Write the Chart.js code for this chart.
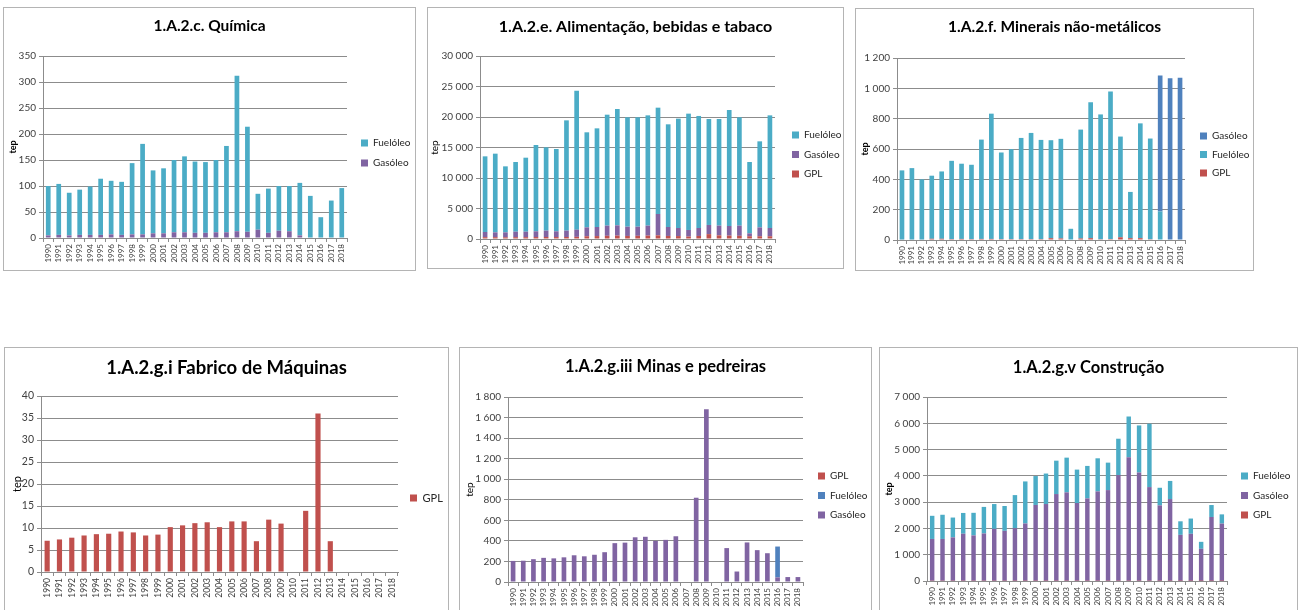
<!DOCTYPE html>
<html>
<head>
<meta charset="utf-8">
<title>Consumo de combustíveis por subsetor industrial</title>
<script src="https://cdn.jsdelivr.net/npm/chart.js@4.4.1/dist/chart.umd.min.js"></script>
<style>
  html, body { margin: 0; padding: 0; background: #fff; width: 1298px; height: 610px; overflow: hidden; }
  .panel { position: absolute; box-sizing: border-box; border: 1px solid #b4b4b4; background: #fff; }
  .panel canvas { position: absolute; left: 0; top: 0; }
</style>
</head>
<body>
<div class="panel" style="left:3px;top:7px;width:413px;height:264px"><canvas id="c1" width="411" height="262"></canvas></div>
<div class="panel" style="left:427px;top:7px;width:417px;height:262px"><canvas id="c2" width="415" height="260"></canvas></div>
<div class="panel" style="left:855px;top:8px;width:399px;height:263px"><canvas id="c3" width="397" height="261"></canvas></div>
<div class="panel" style="left:4px;top:347px;width:445px;height:275px"><canvas id="c4" width="443" height="273"></canvas></div>
<div class="panel" style="left:459px;top:347px;width:413px;height:275px"><canvas id="c5" width="411" height="273"></canvas></div>
<div class="panel" style="left:879px;top:347px;width:419px;height:275px"><canvas id="c6" width="417" height="273"></canvas></div>

<script>
// ---- categories ----
const years = ['1990', '1991', '1992', '1993', '1994', '1995', '1996', '1997', '1998', '1999',
               '2000', '2001', '2002', '2003', '2004', '2005', '2006', '2007', '2008', '2009',
               '2010', '2011', '2012', '2013', '2014', '2015', '2016', '2017', '2018'];

// ---- 1.A.2.c. Química (tep) ----
const quimicaFuel = [95, 98, 82, 87, 93, 108, 103, 102, 137, 174,
                     121, 125, 139, 146, 137, 136, 139, 166, 299, 202,
                     69, 85, 86, 87, 101, 81, 40, 72, 96];
const quimicaGas = [5, 6, 5, 6, 6, 6, 7, 6, 7, 7,
                    9, 9, 11, 11, 10, 10, 11, 11, 13, 12,
                    16, 10, 14, 13, 5, 0, 0, 0, 0];

// ---- 1.A.2.e. Alimentação, bebidas e tabaco (tep) ----
const alimFuel = [12400, 12900, 10820, 11420, 12130, 14150, 13660, 13490, 18080, 22790,
                  15580, 16170, 18190, 19070, 17930, 17930, 18080, 17430, 16830, 17930,
                  19070, 18370, 17370, 17480, 19020, 17760, 11690, 14110, 18470];
const alimGas = [850, 790, 810, 900, 900, 940, 1040, 940, 1040, 1180,
                 1460, 1490, 1670, 1690, 1520, 1500, 1640, 3500, 1470, 1320,
                 1080, 1300, 1500, 1590, 1580, 1670, 480, 1450, 1350];
const alimGpl = [300, 300, 280, 300, 300, 320, 330, 320, 330, 350,
                 450, 480, 520, 550, 500, 520, 550, 600, 500, 480,
                 400, 500, 800, 600, 550, 520, 450, 450, 450];

// ---- 1.A.2.f. Minerais não-metálicos (tep) ----
const minerFuel = [456, 471, 397, 416, 444, 516, 496, 490, 655, 826,
                   571, 593, 667, 700, 654, 646, 657, 74, 718, 897,
                   823, 973, 664, 305, 757, 664, 188, null, null];
const minerGas = [null, null, null, null, null, null, null, null, null, null,
                  null, null, null, null, null, null, null, null, null, null,
                  null, null, null, null, null, null, 896, 1067, 1069];
const minerGpl = [3, 3, 3, 8, 8, 6, 7, 6, 7, 7,
                  6, 6, 6, 6, 6, 12, 10, 0, 10, 12,
                  5, 6, 18, 12, 12, 5, 0, 0, 0];

// ---- 1.A.2.g.i Fabrico de Máquinas (tep) ----
const maqGpl = [7.1, 7.4, 7.8, 8.3, 8.6, 8.7, 9.2, 9.0, 8.3, 8.5,
                10.2, 10.6, 11.1, 11.3, 10.2, 11.5, 11.5, 7.0, 11.9, 11.0,
                null, 13.9, 36.0, 7.0, null, null, null, null, null];

// ---- 1.A.2.g.iii Minas e pedreiras (tep) ----
const minasGas = [205, 207, 222, 235, 230, 240, 260, 250, 265, 290,
                  378, 383, 435, 440, 400, 410, 445, null, 820, 1680,
                  null, 330, 102, 385, 310, 280, 45, 48, 48];
const minasFuel = [null, null, null, null, null, null, null, null, null, null,
                   null, null, null, null, null, null, null, null, null, null,
                   null, null, null, null, null, null, 300, null, null];
const minasGpl = [null, null, null, null, null, null, null, null, null, null,
                  null, null, null, null, null, null, null, null, null, null,
                  null, null, null, null, null, null, null, null, null];

// ---- 1.A.2.g.v Construção (tep) ----
const consGas = [1590, 1590, 1650, 1790, 1725, 1800, 1975, 1900, 2000, 2180,
                 2885, 2920, 3300, 3365, 2960, 3135, 3400, 3450, 4020, 4700,
                 4120, 3565, 2870, 3110, 1750, 1790, 1220, 2430, 2180];
const consFuel = [880, 920, 755, 790, 860, 1010, 945, 945, 1260, 1600,
                  1100, 1160, 1270, 1320, 1270, 1235, 1260, 1045, 1385, 1550,
                  1790, 2410, 670, 690, 515, 580, 265, 455, 350];
const consGpl = [10, 10, 9, 9, 9, 9, 8, 8, 8, 8,
                 8, 8, 8, 8, 8, 8, 8, 8, 8, 8,
                 8, 8, 7, 7, 6, 6, 5, 5, 5];

// ---- styling ----
const COL = { fuel: '#4bacc6', gas: '#8064a2', gpl: '#c0504d', blue: '#4f81bd' };
const GRID = '#8c8c8c';
const TEXT = '#404040';
Chart.defaults.font.family = 'Lato, "Open Sans", sans-serif';

// thousands separated by a space: 30 000, 1 200
function fmt(v) {
  return String(v).replace(/\B(?=(\d{3})+(?!\d))/g, ' ');
}

// re-centres the title over the whole canvas and nudges the legend block
const panelLayout = {
  id: 'panelLayout',
  afterLayout(chart, args, opts) {
    const t = chart.titleBlock;
    if (t) { t.left = 0; t.right = chart.width; t.width = chart.width; }
    const lg = chart.legend;
    if (lg) {
      lg.left += opts.dx; lg.right += opts.dx;
      lg.top += opts.dy; lg.bottom += opts.dy;
    }
  }
};

function buildChart(id, spec) {
  const canvas = document.getElementById(id);
  const W = canvas.width, H = canvas.height;
  const p = spec.plot;
  const lh = spec.titleSize * 1.2;
  const titleTop = spec.titleY - lh / 2;
  const legPad = spec.legendStep - spec.legendSize;
  const itemH = Math.max(spec.legendSize, 7);

  const chart = new Chart(canvas, {
    type: 'bar',
    data: {
      labels: years,
      datasets: spec.series.map(s => ({
        label: s.label,
        data: s.data,
        backgroundColor: s.color,
        borderWidth: 0,
        barPercentage: spec.bar,
        categoryPercentage: 1
      }))
    },
    options: {
      responsive: false,
      animation: false,
      devicePixelRatio: 1,
      layout: { padding: { left: 0, top: 0, bottom: 0, right: 0 } },
      plugins: {
        title: {
          display: true,
          text: spec.title,
          color: '#000',
          font: { size: spec.titleSize, weight: 'bold' },
          padding: { top: titleTop, bottom: p.top - titleTop - lh }
        },
        legend: {
          position: 'right',
          align: 'start',
          fullSize: false,
          reverse: true,
          labels: {
            boxWidth: 7,
            boxHeight: 7,
            padding: legPad,
            color: '#262626',
            font: { size: spec.legendSize }
          }
        },
        tooltip: { enabled: false },
        panelLayout: {
          dx: spec.legendX - p.right - legPad,
          dy: spec.legendY - (p.top + legPad + itemH / 2)
        }
      },
      scales: {
        x: {
          stacked: true,
          offset: true,
          grid: { offset: true, drawOnChartArea: false, drawTicks: true, tickLength: 4, color: GRID },
          border: { display: true, color: GRID },
          ticks: {
            autoSkip: false,
            maxRotation: 90,
            minRotation: 90,
            padding: 2,
            color: TEXT,
            font: { size: spec.xFont }
          },
          afterFit: s => { s.height = H - p.bottom; }
        },
        y: {
          stacked: true,
          min: 0,
          max: spec.max,
          grid: { color: GRID, drawTicks: true, tickLength: 4 },
          border: { display: true, color: GRID },
          ticks: {
            stepSize: spec.step,
            padding: 3,
            color: TEXT,
            font: { size: spec.yFont },
            callback: v => fmt(v)
          },
          title: {
            display: true,
            text: 'tep',
            color: '#000',
            font: { size: spec.tepSize, weight: spec.tepBold ? 'bold' : 'normal' },
            padding: { top: spec.tepX - spec.tepSize * 0.6, bottom: 0 }
          },
          afterFit: s => { s.width = p.left; }
        }
      }
    },
    plugins: [panelLayout]
  });

  // right padding so that the plot ends where the legend column begins
  chart.options.layout.padding.right = W - p.right - chart.legend.width;
  chart.update();
  return chart;
}

buildChart('c1', {
  title: '1.A.2.c. Química', titleSize: 15.5, titleY: 18,
  plot: { left: 39, right: 343, top: 48, bottom: 230 },
  max: 350, step: 50, bar: 0.45, xFont: 8, yFont: 10,
  tepX: 9, tepSize: 9, tepBold: true,
  legendX: 357, legendY: 135, legendStep: 20, legendSize: 10,
  series: [
    { label: 'Gasóleo', data: quimicaGas, color: COL.gas },
    { label: 'Fuelóleo', data: quimicaFuel, color: COL.fuel }
  ]
});

buildChart('c2', {
  title: '1.A.2.e. Alimentação, bebidas e tabaco', titleSize: 16, titleY: 19,
  plot: { left: 52, right: 347, top: 48, bottom: 231 },
  max: 30000, step: 5000, bar: 0.46, xFont: 8, yFont: 10,
  tepX: 7, tepSize: 10, tepBold: false,
  legendX: 364, legendY: 127, legendStep: 19.5, legendSize: 10,
  series: [
    { label: 'GPL', data: alimGpl, color: COL.gpl },
    { label: 'Gasóleo', data: alimGas, color: COL.gas },
    { label: 'Fuelóleo', data: alimFuel, color: COL.fuel }
  ]
});

buildChart('c3', {
  title: '1.A.2.f. Minerais não-metálicos', titleSize: 15.5, titleY: 18,
  plot: { left: 41, right: 329, top: 49, bottom: 231 },
  max: 1200, step: 200, bar: 0.47, xFont: 8, yFont: 10,
  tepX: 9, tepSize: 9, tepBold: true,
  legendX: 344, legendY: 127, legendStep: 18.5, legendSize: 10,
  series: [
    { label: 'GPL', data: minerGpl, color: COL.gpl },
    { label: 'Fuelóleo', data: minerFuel, color: COL.fuel },
    { label: 'Gasóleo', data: minerGas, color: COL.blue }
  ]
});

buildChart('c4', {
  title: '1.A.2.g.i Fabrico de Máquinas', titleSize: 18.5, titleY: 20,
  plot: { left: 36, right: 393, top: 48, bottom: 224 },
  max: 40, step: 5, bar: 0.42, xFont: 8.5, yFont: 10.5,
  tepX: 12, tepSize: 11, tepBold: false,
  legendX: 405, legendY: 150, legendStep: 20, legendSize: 11,
  series: [
    { label: 'GPL', data: maqGpl, color: COL.gpl }
  ]
});

buildChart('c5', {
  title: '1.A.2.g.iii Minas e pedreiras', titleSize: 16.5, titleY: 19,
  plot: { left: 48, right: 343, top: 49, bottom: 234 },
  max: 1800, step: 200, bar: 0.46, xFont: 8, yFont: 10,
  tepX: 10, tepSize: 10, tepBold: false,
  legendX: 358, legendY: 128, legendStep: 19.5, legendSize: 10,
  series: [
    { label: 'Gasóleo', data: minasGas, color: COL.gas },
    { label: 'Fuelóleo', data: minasFuel, color: COL.blue },
    { label: 'GPL', data: minasGpl, color: COL.gpl }
  ]
});

buildChart('c6', {
  title: '1.A.2.g.v Construção', titleSize: 16.5, titleY: 20,
  plot: { left: 47, right: 347, top: 49, bottom: 233 },
  max: 7000, step: 1000, bar: 0.43, xFont: 8, yFont: 10,
  tepX: 9, tepSize: 9, tepBold: true,
  legendX: 361, legendY: 128, legendStep: 19.5, legendSize: 10,
  series: [
    { label: 'GPL', data: consGpl, color: COL.gpl },
    { label: 'Gasóleo', data: consGas, color: COL.gas },
    { label: 'Fuelóleo', data: consFuel, color: COL.fuel }
  ]
});
</script>
</body>
</html>
